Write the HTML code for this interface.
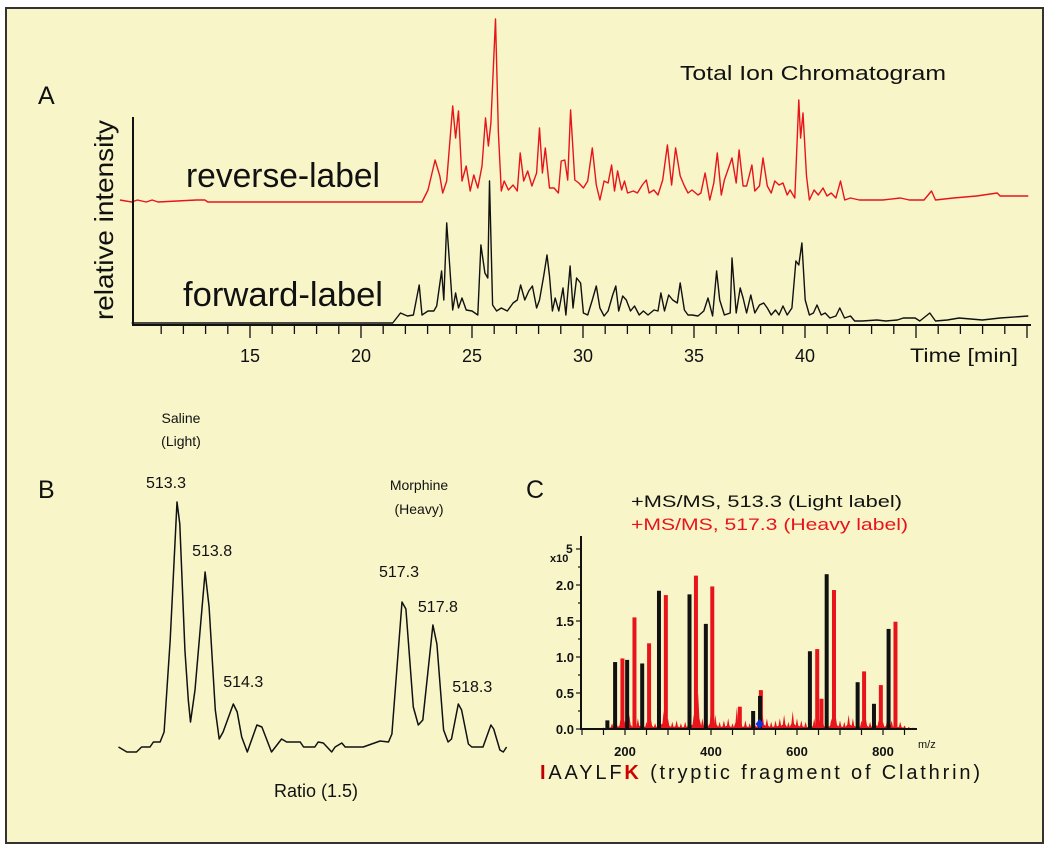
<!DOCTYPE html>
<html><head><meta charset="utf-8"><style>
html,body{margin:0;padding:0;background:#fff}
svg{display:block;font-family:"Liberation Sans",sans-serif}
</style></head><body>
<svg id="fig" width="1050" height="853" viewBox="0 0 1050 853" xmlns="http://www.w3.org/2000/svg">
<rect x="6" y="8" width="1037" height="835" fill="#f8f6c9" stroke="#333" stroke-width="2"/>
<g id="panelA"></g>
<g id="panelB"></g>
<g id="panelC"></g>
</svg>
<script>
// ---------- Panel A data ----------
const redTimes=[9.14,9.67,9.93,10.33,10.59,10.86,12.58,12.97,13.1,22.75,23.02,23.34,23.55,23.68,23.86,24.13,24.26,24.39,24.55,24.74,24.92,25.08,25.26,25.45,25.61,25.74,25.85,26.06,26.19,26.32,26.45,26.64,26.85,27.04,27.17,27.33,27.51,27.70,27.91,28.04,28.17,28.30,28.49,28.70,28.89,29.02,29.18,29.31,29.44,29.63,29.81,30.02,30.21,30.42,30.60,30.76,30.95,31.13,31.29,31.42,31.56,31.74,31.87,32.01,32.27,32.45,32.67,32.85,32.98,33.19,33.38,33.59,33.80,33.99,34.17,34.38,34.57,34.73,34.91,35.18,35.31,35.50,35.71,35.89,36.05,36.23,36.37,36.71,36.90,37.03,37.21,37.37,37.61,37.74,37.95,38.11,38.30,38.48,38.64,38.83,39.01,39.20,39.33,39.54,39.72,39.80,39.91,40.07,40.20,40.41,40.60,40.81,40.99,41.18,41.39,41.60,41.79,42.05,42.45,43.50,44.30,44.70,45.36,45.70,45.88,46.68,47.73,48.66,48.79,50.06];
const redIntensity=[2,0,2,0,2,0,2,2,0,0,12,42,26,9,21,96,64,91,21,36,11,27,14,36,84,56,79,183,69,11,21,12,17,11,49,21,31,16,29,74,29,54,14,14,9,41,42,22,92,22,19,14,21,54,17,2,21,19,37,11,31,12,21,9,11,9,17,22,9,12,7,22,57,17,54,26,16,9,12,7,9,29,2,19,49,7,22,44,19,52,16,16,37,11,16,44,16,9,21,17,19,7,12,4,102,64,89,26,2,12,7,14,6,9,4,21,2,4,2,2,4,2,2,11,2,4,6,9,6,6];
const blackTimes=[9.67,21.43,21.78,22.09,22.36,22.62,22.75,23.02,23.28,23.41,23.63,23.73,23.86,23.98,24.13,24.26,24.39,24.55,24.74,25.00,25.26,25.40,25.58,25.71,25.79,25.93,26.11,26.32,26.59,26.85,27.04,27.19,27.38,27.56,27.72,27.91,28.04,28.23,28.38,28.49,28.62,28.75,28.91,29.10,29.23,29.42,29.55,29.71,29.89,30.02,30.21,30.42,30.60,30.76,30.95,31.13,31.34,31.48,31.61,31.79,31.95,32.14,32.32,32.53,32.72,32.93,33.20,33.38,33.51,33.67,33.86,34.04,34.25,34.38,34.57,34.73,34.91,35.18,35.44,35.63,35.84,36.02,36.16,36.37,36.63,36.71,36.90,37.08,37.21,37.37,37.56,37.74,37.95,38.14,38.30,38.48,38.67,38.83,39.01,39.20,39.41,39.59,39.72,39.86,40.01,40.20,40.38,40.54,40.73,40.91,41.12,41.39,41.57,41.78,42.05,42.24,42.58,43.24,43.64,44.16,44.43,44.96,45.17,45.62,45.88,46.41,46.94,47.99,48.79,50.06];
const blackIntensity=[0,0,10,7,8,38,8,12,12,17,52,23,100,63,13,30,15,25,13,12,8,78,50,45,142,18,12,15,12,20,23,38,23,32,37,15,23,47,68,47,12,25,12,35,8,57,15,45,40,10,8,23,37,15,7,12,28,37,12,27,23,12,17,8,12,8,13,12,30,12,28,23,20,40,13,8,8,7,12,25,7,52,23,8,10,65,10,35,25,10,28,10,18,20,15,8,13,8,17,8,15,62,58,80,23,8,10,18,8,10,5,7,15,5,7,2,2,3,2,3,5,5,2,10,2,3,5,3,5,7];
const timeTickLabels=[15,20,25,30,35,40];

// ---------- Panel B data ----------
const mzB=[512.26,512.41,512.58,512.67,512.82,512.88,513.0,513.07,513.18,513.3,513.35,513.44,513.5,513.54,513.62,513.8,513.87,513.98,514.05,514.12,514.3,514.37,514.45,514.55,514.72,514.81,514.98,515.16,515.25,515.49,515.55,515.75,515.81,515.9,516.05,516.11,516.23,516.29,516.61,516.91,517.06,517.12,517.3,517.37,517.5,517.59,517.67,517.85,517.92,518.04,518.12,518.18,518.3,518.36,518.48,518.54,518.74,518.88,518.93,519.04,519.1,519.16];
const intensityB=[0,-5,-5,0,0,5,5,15,107,245,223,97,47,25,57,175,140,37,8,15,43,35,10,-5,22,20,-5,8,5,5,0,0,5,4,-5,0,4,0,0,6,5,13,145,138,40,22,27,122,103,17,5,8,43,37,3,0,0,22,18,-3,-5,0];
const peakLabelsB=["513.3","513.8","514.3","517.3","517.8","518.3"];
const peakMzB=[513.3,513.8,514.3,517.3,517.85,518.3];
const peakValB=[245,175,43,145,122,43];

// ---------- Panel C data ----------
const blackMz=[159,177,205,240,279,350,388,498,514,630,669,741,779,813];
const blackInt=[0.12,0.93,0.96,0.91,1.92,1.87,1.46,0.25,0.46,1.08,2.15,0.65,0.35,1.39];
const redMz=[194,222,256,295,365,403,467,516,647,657,686,756,795,829];
const redInt=[0.98,1.55,1.19,1.86,2.13,1.98,0.31,0.54,1.11,0.42,1.93,0.80,0.61,1.49];
const noiseInt=[0.02,0.05,0.08,0.1,0.15,0.12,0.2,0.1,0.15,0.12,0.1,0.15,0.08,0.2,0.25,0.15,0.1,0.12,0.08,0.1,0.15,0.2,0.5,0.15,0.12,0.25,0.2,0.1,0.12,0.15,0.08,0.3,0.1,0.12,0.08,0.15,0.1,0.2,0.15,0.1,0.12,0.15,0.2,0.1,0.25,0.15,0.12,0.1,0.08,0.15,0.2,0.12,0.1,0.15,0.18,0.12,0.1,0.2,0.15,0.1,0.12,0.15,0.1,0.2,0.12,0.1,0.15,0.12,0.08,0.1,0.05,0.03,0.02];
const mzTickLabels=[200,400,600,800];
const intTickLabels=["0.0","0.5","1.0","1.5","2.0"];

const NS="http://www.w3.org/2000/svg";
function mk(parent,tag,attrs,text){const e=document.createElementNS(NS,tag);for(const k in attrs)e.setAttribute(k,attrs[k]);if(text!==undefined)e.textContent=text;parent.appendChild(e);return e;}

// ===== Panel A =====
const A=document.getElementById('panelA');
const xA=t=>133+(t-9.73)*22.2;
const yRed=v=>202-v;
const yBlack=v=>323-v;
let e;
e=mk(A,'text',{x:38,y:104,'font-size':25,fill:'#111'},'A');


e=mk(A,'text',{x:680,y:80,'font-size':20,fill:'#111',textLength:266,lengthAdjust:'spacingAndGlyphs'},'Total Ion Chromatogram');


e=mk(A,'text',{transform:'translate(113,220) rotate(-90)','text-anchor':'middle','font-size':26,fill:'#111',textLength:200,lengthAdjust:'spacingAndGlyphs'},'relative intensity');


e=mk(A,'polyline',{points:redTimes.map((t,i)=>xA(t).toFixed(1)+','+yRed(redIntensity[i]).toFixed(1)).join(' '),fill:'none',stroke:'#e8141c','stroke-width':1.4,'stroke-linejoin':'round'});


e=mk(A,'polyline',{points:blackTimes.map((t,i)=>xA(t).toFixed(1)+','+yBlack(blackIntensity[i]).toFixed(1)).join(' '),fill:'none',stroke:'#111','stroke-width':1.4,'stroke-linejoin':'round'});


e=mk(A,'text',{x:186,y:187,'font-size':34,fill:'#111',textLength:194,lengthAdjust:'spacingAndGlyphs'},'reverse-label');


e=mk(A,'text',{x:183,y:306,'font-size':34,fill:'#111',textLength:200,lengthAdjust:'spacingAndGlyphs'},'forward-label');


e=mk(A,'line',{x1:133,y1:117,x2:133,y2:326,stroke:'#111','stroke-width':2});


e=mk(A,'line',{x1:132,y1:325,x2:1031,y2:325,stroke:'#111','stroke-width':2});


for(let t=11;t<=50;t++){
  const maj=t%5===0;
  e=mk(A,'line',{x1:xA(t),y1:325,x2:xA(t),y2:maj?338:334,stroke:'#111','stroke-width':1.3});
  
  
}
timeTickLabels.forEach(t=>{
  e=mk(A,'text',{x:xA(t),y:362,'text-anchor':'middle','font-size':18,fill:'#111'},String(t));
  
  
});
e=mk(A,'text',{x:910,y:362,'font-size':19,fill:'#111',textLength:108,lengthAdjust:'spacingAndGlyphs'},'Time [min]');



// ===== Panel B =====
const B=document.getElementById('panelB');
const xB=m=>177+(m-513.3)*56.25;
const yB=v=>747-v;
e=mk(B,'text',{x:38,y:498,'font-size':25,fill:'#111'},'B');


e=mk(B,'polyline',{points:mzB.map((m,i)=>xB(m).toFixed(1)+','+yB(intensityB[i]).toFixed(1)).join(' '),fill:'none',stroke:'#111','stroke-width':1.5,'stroke-linejoin':'round'});


const lblOff=[[-11,-14],[7,-16],[10,-17],[-3,-25],[5,-13],[14,-12]];
peakLabelsB.forEach((s,i)=>{
  e=mk(B,'text',{x:xB(peakMzB[i])+lblOff[i][0],y:yB(peakValB[i])+lblOff[i][1],'text-anchor':'middle','font-size':16,fill:'#111'},s);
  
  
});
e=mk(B,'text',{x:181,y:423,'text-anchor':'middle','font-size':14,fill:'#111'},'Saline');


e=mk(B,'text',{x:181,y:446,'text-anchor':'middle','font-size':14,fill:'#111'},'(Light)');


e=mk(B,'text',{x:419,y:490,'text-anchor':'middle','font-size':14,fill:'#111'},'Morphine');


e=mk(B,'text',{x:419,y:514,'text-anchor':'middle','font-size':14,fill:'#111'},'(Heavy)');


e=mk(B,'text',{x:316,y:797,'text-anchor':'middle','font-size':18,fill:'#111'},'Ratio (1.5)');



// ===== Panel C =====
const C=document.getElementById('panelC');
const xC=m=>625+(m-200)*0.43;
const yC=v=>729-v*72;
e=mk(C,'text',{x:526,y:498,'font-size':25,fill:'#111'},'C');


e=mk(C,'text',{x:631,y:507,'font-size':17,fill:'#111',textLength:271,lengthAdjust:'spacingAndGlyphs'},'+MS/MS, 513.3 (Light label)');


e=mk(C,'text',{x:631,y:530,'font-size':17,fill:'#e8141c',textLength:277,lengthAdjust:'spacingAndGlyphs'},'+MS/MS, 517.3 (Heavy label)');


// red noise area
let pts=[xC(150)+','+yC(0)];
noiseInt.forEach((v,i)=>{const m=150+i*10;pts.push(xC(m-3)+','+yC(v*0.3));pts.push(xC(m)+','+yC(v));pts.push(xC(m+3)+','+yC(v*0.3));});
pts.push(xC(870)+','+yC(0));
e=mk(C,'polygon',{points:pts.join(' '),fill:'#e8141c'});


redMz.forEach((m,i)=>{
  e=mk(C,'rect',{x:xC(m)-2,y:yC(redInt[i]),width:4,height:redInt[i]*72,fill:'#e8141c'});
  
  
});
blackMz.forEach((m,i)=>{
  e=mk(C,'rect',{x:xC(m)-2,y:yC(blackInt[i]),width:4,height:blackInt[i]*72,fill:'#111'});
  
  
});
e=mk(C,'path',{d:`M${xC(513)},${yC(0)-10} l4,5 l-4,5 l-4,-5 z`,fill:'#1530e0'});


e=mk(C,'line',{x1:581,y1:536,x2:581,y2:730,stroke:'#111','stroke-width':2});


e=mk(C,'line',{x1:580,y1:729,x2:917,y2:729,stroke:'#111','stroke-width':2});


for(let m=100;m<=850;m+=50){
  e=mk(C,'line',{x1:xC(m),y1:729,x2:xC(m),y2:735,stroke:'#111','stroke-width':1.2});
  
  
}
mzTickLabels.forEach(m=>{
  e=mk(C,'text',{x:xC(m),y:756,'text-anchor':'middle','font-size':13,'font-weight':'bold',fill:'#111'},String(m));
  
  
});
for(let k=0;k<=10;k++){
  const v=k*0.25;
  e=mk(C,'line',{x1:v%0.5===0?576:578,y1:yC(v),x2:581,y2:yC(v),stroke:'#111','stroke-width':1.2});
  
  
}
intTickLabels.forEach(s=>{
  e=mk(C,'text',{x:574,y:yC(parseFloat(s))+5,'text-anchor':'end','font-size':13,'font-weight':'bold',fill:'#111'},s);
  
  
});
e=mk(C,'text',{x:550,y:562,'font-size':11,'font-weight':'bold',fill:'#111'},'x10');


e=mk(C,'text',{x:566,y:553,'font-size':12,'font-weight':'bold',fill:'#111'},'5');


e=mk(C,'text',{x:918,y:748,'font-size':11,fill:'#111'},'m/z');


const seq=mk(C,'text',{x:540,y:779,'font-size':20,fill:'#111',textLength:440,lengthAdjust:'spacing'});


mk(seq,'tspan',{fill:'#c00000','font-weight':'bold'},'I');
mk(seq,'tspan',{},'AAYLF');
mk(seq,'tspan',{fill:'#d00000','font-weight':'bold'},'K');
mk(seq,'tspan',{},' (tryptic fragment of Clathrin)');
</script>
</body></html>
